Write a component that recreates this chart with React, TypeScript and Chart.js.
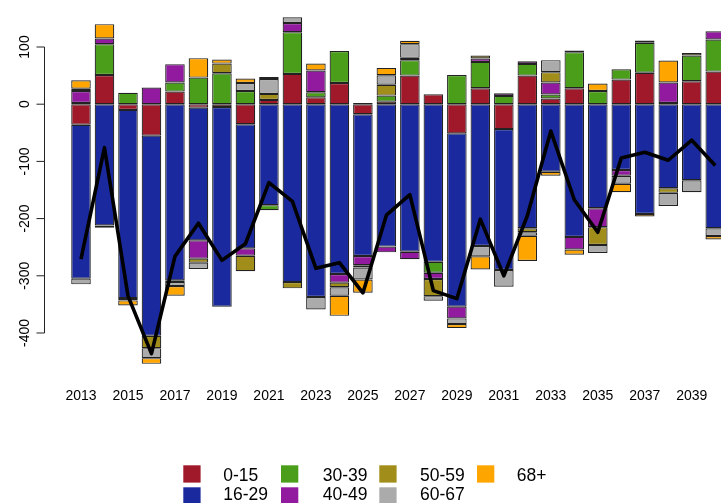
import React, { useEffect, useRef } from "react";
import { Chart, registerables } from "chart.js";

Chart.register(...registerables);

const years = [
  "2013", "2014", "2015", "2016", "2017", "2018", "2019", "2020", "2021", "2022",
  "2023", "2024", "2025", "2026", "2027", "2028", "2029", "2030", "2031", "2032",
  "2033", "2034", "2035", "2036", "2037", "2038", "2039", "2040",
];

const age0_15 = [-36, 51, -10, -55, 22, -6, -5, -35, 7.5, 53, 12, 37, -17.5, 4.5, 50, 17.5, -51, 28, -43.5, 50, 10, 28, null, 43, 55, null, 40, 57];
const age16_29 = [-269, -212, -329, -350, -308, -232, -349, -217, -176.5, -311, -337, -297, -248, -249, -258, -275.6, -303, -248, -246.5, -217, -118, -232, -182, -115, -192, -147, -133, -217];
const age30_39 = [2, 54, 20, null, 16, 46.5, 54, 23, -9, 73, 9, 56, 2, 10.5, 27, -19, 51, 46, 14.5, 20.5, 7, 63, 23, 18, 52.5, 2, 45, 56];
const age40_49 = [21, 10, null, 29, 32, -32, null, -13, null, 16, 38, -15, -16, -10, -13, -11, -20.5, 6, 4.5, 4.5, 21, -22, -33, -10, null, 36, null, 14.5];
const age50_59 = [4, null, -4, -21.5, -3, -7, 17, -27, 10.5, -11, null, -8, -4, 19, 4, -30, null, 5, null, -7, 18, 3, -31, null, 4, -8, 4.5, null];
const age60_67 = [-10, -4, null, -17.5, -7, -11, null, 14, 26, 10, -22, -15, -21, 16.5, 24, -8, -10, -18, -29, -6, 21, null, -14, -14, null, -23, -21, -13.5];
const age68plus = [15, 25, -9, -10, -17, 34, 7, 8, 3.5, null, 12, -35, -23, 13, 6, null, -7, -23, null, -44, -7, -9, 13, -15, -4.5, 38.5, null, -6];
const netTotal = [-271, -76, -335, -436, -266, -208, -273, -244, -137, -170, -287, -277, -330, -194, -158, -326, -340, -201, -300, -195, -47, -167, -224, -94, -84, -98, -63, -107];

const seriesLabels = ["0-15", "16-29", "30-39", "40-49", "50-59", "60-67", "68+"];
const seriesColors = ["#A0192A", "#1A2A9E", "#4A9E1A", "#911A9E", "#A18D1A", "#ABABAB", "#FFA500"];
const yTickValues = [-400, -300, -200, -100, 0, 100];

const FONT = "'Liberation Sans', Arial, Helvetica, sans-serif";

const yAxisPlugin = {
  id: "rYAxis",
  afterDraw(chart: any) {
    const ctx = chart.ctx;
    const y = chart.scales.y;
    const ax = 44.5;
    ctx.save();
    ctx.strokeStyle = "#222";
    ctx.lineWidth = 1;
    ctx.beginPath();
    ctx.moveTo(ax, y.getPixelForValue(yTickValues[0]));
    ctx.lineTo(ax, y.getPixelForValue(yTickValues[yTickValues.length - 1]));
    for (const v of yTickValues) {
      const py = y.getPixelForValue(v);
      ctx.moveTo(ax, py);
      ctx.lineTo(ax - 8, py);
    }
    ctx.stroke();
    ctx.fillStyle = "#000";
    ctx.font = `14px ${FONT}`;
    ctx.textAlign = "center";
    ctx.textBaseline = "alphabetic";
    for (const v of yTickValues) {
      const py = y.getPixelForValue(v);
      ctx.save();
      ctx.translate(29, py);
      ctx.rotate(-Math.PI / 2);
      ctx.fillText(String(v), 0, 0);
      ctx.restore();
    }
    ctx.restore();
  },
};

const legendPlugin = {
  id: "rLegend",
  afterDraw(chart: any) {
    const ctx = chart.ctx;
    const colX = [183.3, 281, 379.3, 477];
    const textX = [223.3, 322.7, 420, 516.7];
    const boxY = [465.3, 487.3];
    const baseY = [481.4, 500];
    ctx.save();
    ctx.font = `17.5px ${FONT}`;
    ctx.textAlign = "left";
    ctx.textBaseline = "alphabetic";
    seriesLabels.forEach((lab, i) => {
      const col = Math.floor(i / 2);
      const row = i % 2;
      ctx.fillStyle = seriesColors[i];
      ctx.fillRect(colX[col], boxY[row], 17.3, 17.3);
      ctx.fillStyle = "#000";
      ctx.fillText(lab, textX[col], baseY[row]);
    });
    ctx.restore();
  },
};

export default function App() {
  const ref = useRef<HTMLCanvasElement>(null);
  useEffect(() => {
    const values = [age0_15, age16_29, age30_39, age40_49, age50_59, age60_67, age68plus];
    const barSets: any[] = values.map((d, i) => ({
      type: "bar",
      label: seriesLabels[i],
      data: d,
      backgroundColor: seriesColors[i],
      borderColor: "#222",
      borderWidth: 1.2,
      borderSkipped: false,
      barPercentage: 0.833,
      categoryPercentage: 1,
      stack: "bars",
      order: 1,
    }));
    const lineSet: any = {
      type: "line",
      label: "net",
      data: netTotal,
      borderColor: "#000",
      borderWidth: 3.6,
      pointRadius: 0,
      borderJoinStyle: "round",
      tension: 0,
      stack: "line",
      order: 0,
    };
    const chart = new Chart(ref.current as HTMLCanvasElement, {
      type: "bar",
      data: { labels: years, datasets: [...barSets, lineSet] },
      options: {
        responsive: false,
        animation: false,
        devicePixelRatio: 1,
        layout: { padding: { left: 69.25, right: 0, top: 10, bottom: 90.2 } },
        plugins: { legend: { display: false }, tooltip: { enabled: false } },
        scales: {
          x: {
            stacked: true,
            grid: { display: false, drawTicks: false },
            border: { display: false },
            ticks: {
              autoSkip: false,
              maxRotation: 0,
              minRotation: 0,
              padding: 8,
              color: "#000",
              font: { family: FONT, size: 14 },
              callback: (_v: any, idx: number) => (idx % 2 === 0 ? years[idx] : ""),
            },
          },
          y: {
            stacked: true,
            display: false,
            min: -482.2,
            max: 164.7,
          },
        },
      } as any,
      plugins: [yAxisPlugin, legendPlugin],
    });
    return () => chart.destroy();
  }, []);
  return (
    <div style={{ position: "fixed", left: 0, top: 0, width: 721, height: 503, overflow: "hidden", background: "#fff" }}>
      <canvas ref={ref} width={727} height={503} style={{ display: "block", width: 727, height: 503 }} />
    </div>
  );
}
